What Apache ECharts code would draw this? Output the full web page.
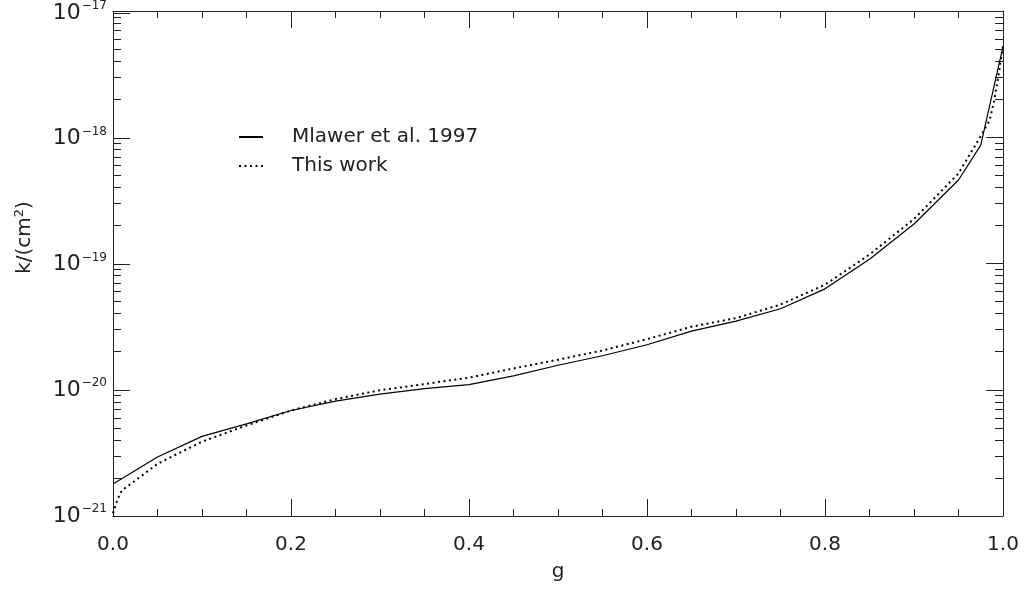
<!DOCTYPE html>
<html>
<head>
<meta charset="utf-8">
<script src="https://cdn.jsdelivr.net/npm/echarts@6/dist/echarts.min.js"></script>
<style>
  html, body { margin: 0; padding: 0; background: #fff; }
  #main { width: 1030px; height: 591px; }
</style>
</head>
<body>
<div id="main"></div>
<script>
// Mlawer et al. 1997 (solid)
var gMlawer = [0, 0.05, 0.1, 0.15, 0.2, 0.25, 0.3, 0.35, 0.4, 0.45, 0.5, 0.55, 0.6, 0.65, 0.7, 0.75, 0.8, 0.85, 0.9, 0.95, 0.975, 1.0];
var kMlawer = [1.8e-21, 2.95e-21, 4.3e-21, 5.4e-21, 6.9e-21, 8.2e-21, 9.3e-21, 1.03e-20, 1.11e-20, 1.3e-20, 1.58e-20, 1.88e-20, 2.3e-20, 2.95e-20, 3.55e-20, 4.45e-20, 6.4e-20, 1.1e-19, 2.1e-19, 4.7e-19, 8.9e-19, 5.4e-18];

// This work (dotted)
var gThis = [0, 0.005, 0.01, 0.02, 0.05, 0.1, 0.15, 0.2, 0.25, 0.3, 0.35, 0.4, 0.45, 0.5, 0.55, 0.6, 0.65, 0.7, 0.75, 0.8, 0.85, 0.9, 0.95, 0.975, 0.985, 0.99, 0.995, 1.0];
var kThis = [1.05e-21, 1.35e-21, 1.6e-21, 1.8e-21, 2.6e-21, 3.9e-21, 5.25e-21, 6.9e-21, 8.5e-21, 1.0e-20, 1.12e-20, 1.26e-20, 1.49e-20, 1.75e-20, 2.07e-20, 2.55e-20, 3.2e-20, 3.75e-20, 4.8e-20, 6.9e-20, 1.2e-19, 2.3e-19, 5.3e-19, 1.05e-18, 1.4e-18, 2.0e-18, 3.2e-18, 5.5e-18];

// tick values
var xMajor = [0, 0.2, 0.4, 0.6, 0.8, 1.0];
var xMinor = [0.05, 0.1, 0.15, 0.25, 0.3, 0.35, 0.45, 0.5, 0.55, 0.65, 0.7, 0.75, 0.85, 0.9, 0.95];
var yMajor = [1e-21, 1e-20, 1e-19, 1e-18, 1e-17];
var yMinor = [];
for (var e = -21; e < -17; e++) {
  for (var m = 2; m <= 9; m++) yMinor.push(m * Math.pow(10, e));
}

function pairs(xs, ys) {
  var out = [];
  for (var i = 0; i < xs.length; i++) out.push([xs[i], ys[i]]);
  return out;
}

var font = 'DejaVu Sans';
var axisColor = '#222';
var textColor = '#222';
var gridBox = { left: 113, right: 27, top: 11, bottom: 75, containLabel: false };

// grid 0: data + bottom/left majors, grid 1: bottom/left minors,
// grid 2: top/right majors, grid 3: top/right minors
var grids = [];
for (var i = 0; i < 4; i++) grids.push(Object.assign({}, gridBox));

function xAx(gi, pos, major, showLabel) {
  return {
    type: 'value',
    gridIndex: gi,
    position: pos,
    min: 0,
    max: 1,
    interval: 0.2,
    axisLine: { show: major, onZero: false, lineStyle: { color: axisColor, width: 1 } },
    axisTick: {
      show: true,
      inside: true,
      length: major ? 17 : 7,
      customValues: major ? xMajor : xMinor,
      lineStyle: { color: axisColor, width: 1 }
    },
    axisLabel: {
      show: showLabel,
      margin: 19,
      fontFamily: font,
      fontSize: 20,
      color: textColor,
      formatter: function (v) { return v.toFixed(1); }
    },
    splitLine: { show: false }
  };
}

function yAx(gi, pos, major, showLabel) {
  return {
    type: 'log',
    logBase: 10,
    gridIndex: gi,
    position: pos,
    min: 1e-21,
    max: 1e-17,
    axisLine: { show: major, onZero: false, lineStyle: { color: axisColor, width: 1 } },
    axisTick: {
      show: true,
      inside: true,
      length: major ? 17 : 8,
      customValues: major ? yMajor : yMinor,
      lineStyle: { color: axisColor, width: 1 }
    },
    axisLabel: {
      show: showLabel,
      customValues: yMajor,
      margin: 6,
      formatter: function (v) {
        var ex = Math.round(Math.log(v) / Math.LN10);
        return '{b|10}{s|' + (ex < 0 ? '\u2212' + (-ex) : ex) + '}';
      },
      rich: {
        b: { fontFamily: font, fontSize: 22, color: textColor },
        s: { fontFamily: font, fontSize: 12, color: textColor, padding: [0, 0, 14, 1] }
      }
    },
    splitLine: { show: false }
  };
}

var xBottom = xAx(0, 'bottom', true, true);
xBottom.name = 'g';
xBottom.nameLocation = 'middle';
xBottom.nameGap = 46;
xBottom.nameTextStyle = { fontFamily: font, fontSize: 20, color: textColor };

var yLeft = yAx(0, 'left', true, true);
yLeft.name = 'k/(cm{s|2})';
yLeft.nameLocation = 'middle';
yLeft.nameRotate = 90;
yLeft.nameGap = 76;
yLeft.nameTextStyle = {
  fontFamily: font, fontSize: 20, color: textColor,
  padding: [0, 0, 0, 54],
  rich: { s: { fontFamily: font, fontSize: 13, color: textColor, padding: [0, 0, 11, 0] } }
};

var chart = echarts.init(document.getElementById('main'), null, { renderer: 'canvas' });

var option = {
  backgroundColor: '#fff',
  animation: false,
  grid: grids,
  legend: {
    orient: 'vertical',
    left: 238,
    top: 127,
    padding: 0,
    itemWidth: 24,
    itemHeight: 14,
    itemGap: 9,
    itemStyle: { opacity: 0, borderWidth: 0 },
    data: ['Mlawer et al. 1997', 'This work'],
    textStyle: { fontFamily: font, fontSize: 20, lineHeight: 18, color: textColor, padding: [0, 0, 0, 24] }
  },
  xAxis: [
    xBottom,
    xAx(1, 'bottom', false, false),
    xAx(2, 'top', true, false),
    xAx(3, 'top', false, false)
  ],
  yAxis: [
    yLeft,
    yAx(1, 'left', false, false),
    yAx(2, 'right', true, false),
    yAx(3, 'right', false, false)
  ],
  series: [{
    name: 'Mlawer et al. 1997',
    type: 'line',
    xAxisIndex: 0,
    yAxisIndex: 0,
    data: pairs(gMlawer, kMlawer),
    symbol: 'none',
    itemStyle: { color: '#000' },
    lineStyle: { color: '#000', width: 1.2, type: 'solid' }
  }, {
    name: 'This work',
    type: 'line',
    xAxisIndex: 0,
    yAxisIndex: 0,
    data: pairs(gThis, kThis),
    symbol: 'none',
    itemStyle: { color: '#000' },
    lineStyle: { color: '#000', width: 2, type: [2, 3.5] }
  }]
};

chart.setOption(option);
</script>
</body>
</html>
